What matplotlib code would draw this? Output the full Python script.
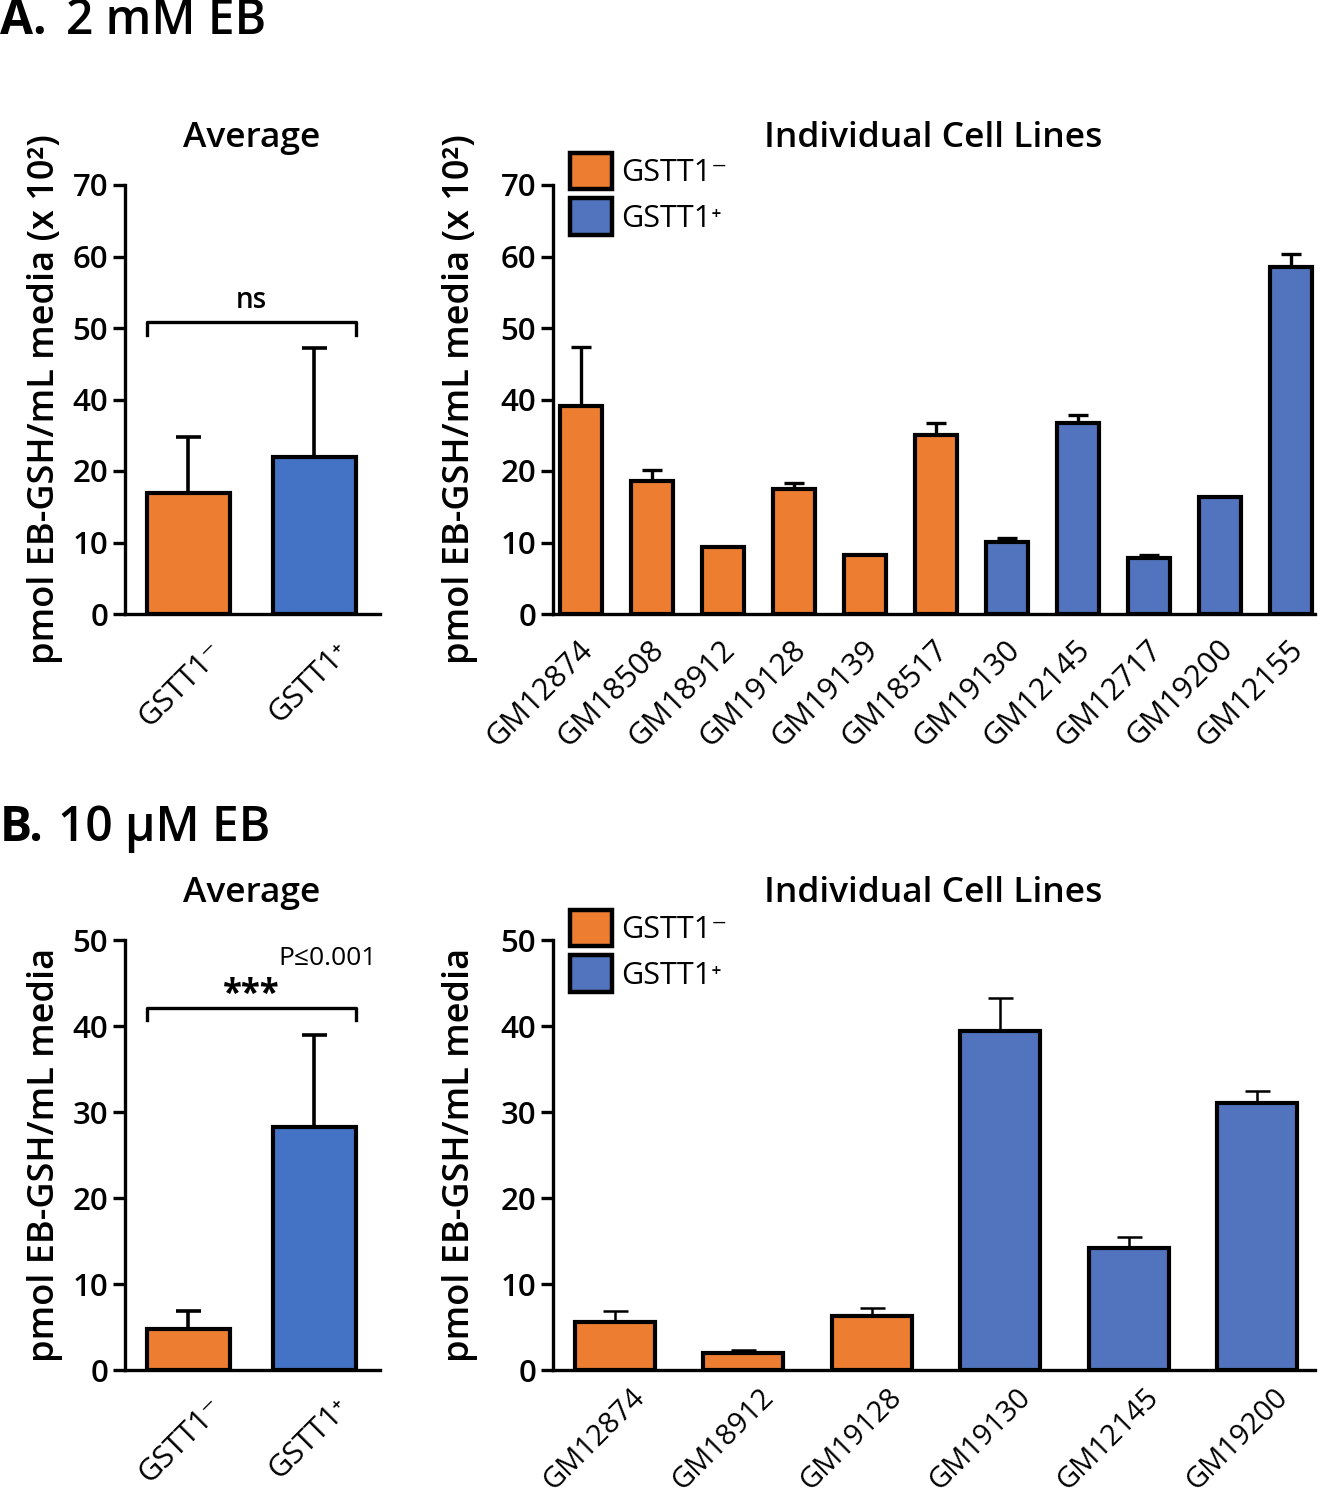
import matplotlib
matplotlib.use("Agg")
import matplotlib.pyplot as plt
import matplotlib.transforms as mtransforms
from matplotlib.patches import Patch
import numpy as np

plt.rcParams['font.family'] = ['Open Sans', 'DejaVu Sans']

# ---------------- data ----------------
avg_groups = ["GSTT1⁻", "GSTT1⁺"]

# Panel A (2 mM EB) -- values in axis-position units (tick labels as printed)
A_avg_vals = [16.9, 22.0]
A_avg_err = [7.9, 15.2]
A_yticks = [0, 10, 20, 30, 40, 50, 60]
A_yticklabels = ["0", "10", "20", "40", "50", "60", "70"]
A_lines = ["GM12874", "GM18508", "GM18912", "GM19128", "GM19139", "GM18517",
           "GM19130", "GM12145", "GM12717", "GM19200", "GM12155"]
A_line_geno = ["-", "-", "-", "-", "-", "-", "+", "+", "+", "+", "+"]
A_line_vals = [29.1, 18.6, 9.4, 17.5, 8.2, 25.0, 10.1, 26.7, 7.8, 16.3, 48.6]
A_line_err = [8.2, 1.5, 0.0, 0.8, 0.0, 1.7, 0.5, 1.1, 0.5, 0.0, 1.7]

# Panel B (10 uM EB)
B_avg_vals = [4.75, 28.2]
B_avg_err = [2.15, 10.8]
B_yticks = [0, 10, 20, 30, 40, 50]
B_yticklabels = ["0", "10", "20", "30", "40", "50"]
B_lines = ["GM12874", "GM18912", "GM19128", "GM19130", "GM12145", "GM19200"]
B_line_geno = ["-", "-", "-", "+", "+", "+"]
B_line_vals = [5.6, 1.95, 6.3, 39.4, 14.2, 31.1]
B_line_err = [1.3, 0.35, 0.95, 3.9, 1.3, 1.3]

ORANGE = "#ED7D31"
BLUE_AVG = "#4472C4"
BLUE_IND = "#5274BE"

FS_TICK = 22.5
FS_LABEL = 26
FS_TITLE = 25.5
FS_XT = 22
FS_LEG = 22
W = "semibold"

fig = plt.figure(figsize=(13.27, 15.0), dpi=100)


def style_axes(ax, ylim, yticks, yticklabels):
    ax.set_ylim(*ylim)
    ax.set_yticks(yticks)
    ax.set_yticklabels(yticklabels, fontsize=FS_TICK, fontweight=W)
    for s in ["top", "right"]:
        ax.spines[s].set_visible(False)
    for s in ["left", "bottom"]:
        ax.spines[s].set_linewidth(2.4)
    ax.tick_params(axis='y', length=9, width=2.4, pad=3)
    ax.tick_params(axis='x', length=0, pad=8)


def up_err(ax, x, vals, errs, lw, cap):
    for xi, v, e in zip(x, vals, errs):
        if e > 0:
            ax.errorbar([xi], [v], yerr=[[0], [e]], fmt='none', ecolor='black',
                        elinewidth=lw, capsize=cap, capthick=lw, zorder=1)


def xlabels(ax, x, labels, dx, dy, fs):
    ax.set_xticks(x)
    ax.set_xticklabels(labels, rotation=45, ha='right', va='center',
                       rotation_mode='anchor', fontsize=fs)
    off = mtransforms.ScaledTranslation(dx / 100, dy / 100, fig.dpi_scale_trans)
    for lab in ax.get_xticklabels():
        lab.set_transform(lab.get_transform() + off)


ylabel_A = "pmol EB-GSH/mL media (x 10²)"
ylabel_B = "pmol EB-GSH/mL media"


def avg_panel(rect, vals, errs, ylim, yt, ytl, ylabel, title):
    ax = fig.add_axes(rect)
    x = np.arange(len(vals))
    up_err(ax, x, vals, errs, 2.6, 9)
    ax.bar(x, vals, width=0.66, color=[ORANGE, BLUE_AVG], edgecolor='black',
           linewidth=3, zorder=2)
    ax.set_xlim(-0.504, 1.52)
    style_axes(ax, ylim, yt, ytl)
    xlabels(ax, x, avg_groups, 30, -22, FS_XT)
    ax.set_ylabel(ylabel, fontsize=FS_LABEL, fontweight=W)
    ax.yaxis.set_label_coords(-0.245, 0.5)
    ax.text(0.498, 1.11, title, transform=ax.transAxes, ha='center', va='center',
            fontsize=FS_TITLE, fontweight=W)
    return ax, x


def ind_panel(rect, vals, errs, genos, labels, ylim, yt, ytl, ylabel, xlim, width,
              lw_err, cap, leg_y, dx, dy, fs):
    ax = fig.add_axes(rect)
    x = np.arange(len(vals))
    up_err(ax, x, vals, errs, lw_err, cap)
    cols = [ORANGE if g == "-" else BLUE_IND for g in genos]
    ax.bar(x, vals, width=width, color=cols, edgecolor='black', linewidth=3, zorder=2)
    ax.set_xlim(*xlim)
    style_axes(ax, ylim, yt, ytl)
    xlabels(ax, x, labels, dx, dy, fs)
    ax.set_ylabel(ylabel, fontsize=FS_LABEL, fontweight=W)
    ax.yaxis.set_label_coords(-0.098, 0.5)
    ax.text(0.499, 1.11, "Individual Cell Lines", transform=ax.transAxes,
            ha='center', va='center', fontsize=FS_TITLE, fontweight=W)
    handles = [Patch(facecolor=ORANGE, edgecolor='black', linewidth=3.2),
               Patch(facecolor=BLUE_IND, edgecolor='black', linewidth=3.2)]
    ax.legend(handles, avg_groups, loc='upper left', bbox_to_anchor=(0.022, leg_y),
              frameon=False, handlelength=1.38, handleheight=1.45,
              handletextpad=0.3, labelspacing=0.3, borderaxespad=0,
              borderpad=0, prop={'size': FS_LEG, 'weight': 'medium'})
    return ax, x


# ---- Panel A ----
fig.text(0.0, 1 - 22 / 1500, "A.", fontsize=34.5, fontweight='bold', ha='left', va='center')
fig.text(66 / 1327, 1 - 22 / 1500, "2 mM EB", fontsize=34.5, fontweight=W,
         ha='left', va='center')

axA1, xa = avg_panel([125 / 1327, 1 - 614 / 1500, 255 / 1327, 429 / 1500],
                     A_avg_vals, A_avg_err, (0, 60), A_yticks, A_yticklabels,
                     ylabel_A, "Average")
bw = 0.33
yb = 40.8
axA1.plot([xa[0] - bw, xa[0] - bw, xa[1] + bw, xa[1] + bw], [yb - 1.8, yb, yb, yb - 1.8],
          color='black', lw=2.4, clip_on=False)
axA1.text(0.5, yb + 1.0, "ns", ha='center', va='bottom', fontsize=20, fontweight=W)

ind_panel([553 / 1327, 1 - 614 / 1500, 762 / 1327, 429 / 1500],
          A_line_vals, A_line_err, A_line_geno, A_lines, (0, 60), A_yticks,
          A_yticklabels, ylabel_A, (-0.39, 10.34), 0.59, 2.4, 7, 1.075, 8, -20, FS_XT)

# ---- Panel B ----
fig.text(0.0, 1 - 828 / 1500, "B.", fontsize=34.5, fontweight='bold', ha='left', va='center')
fig.text(58 / 1327, 1 - 828 / 1500, "10 µM EB", fontsize=34.5, fontweight=W,
         ha='left', va='center')

axB1, xb = avg_panel([125 / 1327, 1 - 1370 / 1500, 255 / 1327, 430 / 1500],
                     B_avg_vals, B_avg_err, (0, 50), B_yticks, B_yticklabels,
                     ylabel_B, "Average")
yb = 42.1
axB1.plot([xb[0] - bw, xb[0] - bw, xb[1] + bw, xb[1] + bw], [yb - 1.4, yb, yb, yb - 1.4],
          color='black', lw=2.4, clip_on=False)
axB1.text(0.5, yb - 0.6, "***", ha='center', va='bottom', fontsize=25, fontweight='bold')
axB1.text(1.1, 47.8, "P≤0.001", ha='center', va='center', fontsize=19)

ind_panel([553 / 1327, 1 - 1370 / 1500, 762 / 1327, 430 / 1500],
          B_line_vals, B_line_err, B_line_geno, B_lines, (0, 50), B_yticks,
          B_yticklabels, ylabel_B, (-0.48, 5.45), 0.62, 1.8, 9, 1.07, 26, -12, 21)

fig.savefig("out.png", dpi=100)
